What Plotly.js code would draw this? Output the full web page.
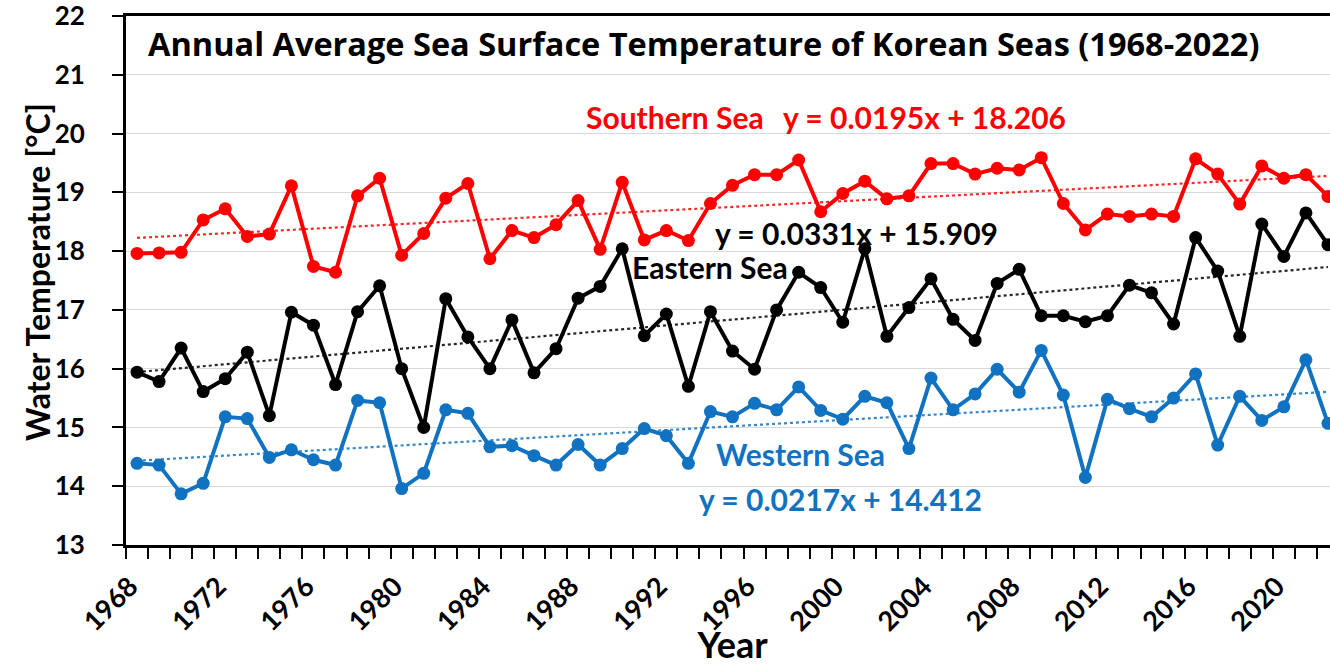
<!DOCTYPE html>
<html>
<head>
<meta charset="utf-8">
<script src="https://cdn.plot.ly/plotly-3.0.1.min.js"></script>
<style>
  html, body { margin: 0; padding: 0; background: #ffffff; overflow: hidden; }
  #chart { width: 1345px; height: 666px; }
</style>
</head>
<body>
<div id="chart"></div>
<script>
// Annual mean sea surface temperature (°C) of the seas around Korea
const years = [
  1968, 1969, 1970, 1971, 1972, 1973, 1974, 1975, 1976, 1977,
  1978, 1979, 1980, 1981, 1982, 1983, 1984, 1985, 1986, 1987,
  1988, 1989, 1990, 1991, 1992, 1993, 1994, 1995, 1996, 1997,
  1998, 1999, 2000, 2001, 2002, 2003, 2004, 2005, 2006, 2007,
  2008, 2009, 2010, 2011, 2012, 2013, 2014, 2015, 2016, 2017,
  2018, 2019, 2020, 2021, 2022
];

const southernSea = [
  17.96, 17.97, 17.98, 18.53, 18.72, 18.25, 18.29, 19.11, 17.74, 17.64,
  18.94, 19.24, 17.93, 18.30, 18.90, 19.15, 17.87, 18.35, 18.23, 18.45,
  18.86, 18.03, 19.17, 18.19, 18.35, 18.18, 18.81, 19.12, 19.30, 19.30,
  19.55, 18.67, 18.98, 19.19, 18.89, 18.94, 19.49, 19.49, 19.31, 19.41,
  19.38, 19.59, 18.81, 18.36, 18.63, 18.59, 18.63, 18.59, 19.57, 19.31,
  18.80, 19.45, 19.24, 19.30, 18.93
];

const easternSea = [
  15.94, 15.78, 16.35, 15.61, 15.83, 16.28, 15.20, 16.96, 16.74, 15.73,
  16.97, 17.41, 16.00, 15.00, 17.19, 16.54, 16.00, 16.83, 15.93, 16.34,
  17.20, 17.40, 18.04, 16.56, 16.93, 15.70, 16.97, 16.30, 15.99, 17.00,
  17.64, 17.38, 16.79, 18.04, 16.55, 17.04, 17.53, 16.84, 16.48, 17.45,
  17.69, 16.90, 16.90, 16.80, 16.90, 17.42, 17.29, 16.76, 18.23, 17.66,
  16.55, 18.46, 17.91, 18.65, 18.11
];

const westernSea = [
  14.39, 14.36, 13.87, 14.05, 15.18, 15.15, 14.49, 14.62, 14.45, 14.36,
  15.46, 15.42, 13.96, 14.22, 15.30, 15.24, 14.67, 14.69, 14.52, 14.36,
  14.71, 14.36, 14.64, 14.98, 14.86, 14.39, 15.27, 15.18, 15.41, 15.30,
  15.69, 15.29, 15.14, 15.53, 15.42, 14.64, 15.84, 15.30, 15.57, 15.99,
  15.60, 16.31, 15.55, 14.15, 15.48, 15.32, 15.18, 15.50, 15.91, 14.70,
  15.53, 15.12, 15.35, 16.15, 15.07
];

// Linear trend y = a*x + b, with x = 1 for the first year
const seaNames = ["Southern Sea", "Eastern Sea", "Western Sea"];
const trendSlope = [0.0195, 0.0331, 0.0217];
const trendIntercept = [18.206, 15.909, 14.412];

const tickYears = [1968, 1972, 1976, 1980, 1984, 1988, 1992, 1996, 2000, 2004, 2008, 2012, 2016, 2020];
const yTicks = [13, 14, 15, 16, 17, 18, 19, 20, 21, 22];

const RED = "#ff0000";
const BLACK = "#000000";
const BLUE = "#1172c2";
const FONT = "Lato, 'Open Sans', sans-serif";
const TITLE_FONT = "'Open Sans', Lato, sans-serif";

const series = [southernSea, easternSea, westernSea];
const colors = [RED, BLACK, BLUE];

function trendTrace(i) {
  const n = years.length;
  const xs = [years[0], years[n - 1]];
  const ys = [1, n].map(k => trendSlope[i] * k + trendIntercept[i]);
  return {
    x: xs, y: ys, type: "scatter", mode: "lines",
    line: { color: colors[i], width: 2.2, dash: "dot" },
    opacity: 0.85,
    hoverinfo: "skip", showlegend: false
  };
}

function dataTrace(i) {
  return {
    x: years, y: series[i], name: seaNames[i],
    type: "scatter", mode: "lines+markers",
    line: { color: colors[i], width: 4 },
    marker: { color: colors[i], size: 13 },
    showlegend: false
  };
}

const traces = [
  trendTrace(0), trendTrace(1), trendTrace(2),
  dataTrace(2), dataTrace(1), dataTrace(0)
];

function eqText(i) {
  return "y = " + trendSlope[i].toFixed(4) + "x + " + trendIntercept[i].toFixed(3);
}

const labelFont = (c) => ({ family: FONT, size: 30, color: c, weight: 700 });

const annotations = [
  { x: 1992.4, y: 20.29, text: "Southern Sea", font: labelFont(RED) },
  { x: 2003.7, y: 20.29, text: eqText(0), font: labelFont(RED) },
  { x: 2000.6, y: 18.31, text: eqText(1), font: labelFont(BLACK) },
  { x: 1994.0, y: 17.73, text: "Eastern Sea", font: labelFont(BLACK) },
  { x: 1998.1, y: 14.55, text: "Western Sea", font: labelFont(BLUE) },
  { x: 1999.9, y: 13.78, text: eqText(2), font: labelFont(BLUE) }
].map(a => Object.assign({ xref: "x", yref: "y", showarrow: false, xanchor: "center", yanchor: "middle" }, a));

// vertical axis title, placed beside the tick labels
annotations.push({
  xref: "paper", yref: "paper",
  x: -89 / 1213, y: (545 - 272) / 529,
  xanchor: "center", yanchor: "middle",
  textangle: -90, showarrow: false,
  text: "Water Temperature [°C]",
  font: { family: FONT, size: 32, color: "#000000", weight: 700 }
});

const layout = {
  width: 1345,
  height: 666,
  margin: { l: 126, r: 6, t: 16, b: 121 },
  paper_bgcolor: "#ffffff",
  plot_bgcolor: "#ffffff",
  font: { family: FONT, color: "#000000" },
  title: {
    text: "Annual Average Sea Surface Temperature of Korean Seas (1968-2022)",
    font: { family: TITLE_FONT, size: 32.5, color: "#000000", weight: 700 },
    xref: "container", yref: "container",
    x: 148 / 1345, xanchor: "left",
    y: 1 - 45 / 666, yanchor: "middle"
  },
  xaxis: {
    type: "linear",
    range: [years[0] - 0.5, years[years.length - 1] + 0.5],
    tickmode: "array",
    tickvals: tickYears,
    ticktext: tickYears.map(String),
    tickangle: -45,
    ticks: "",
    ticklabelstandoff: 12,
    ticklabelshift: -7,
    tickfont: { family: FONT, size: 27, color: "#000000", weight: 700 },
    minor: { tickmode: "linear", tick0: years[0] - 0.5, dtick: 1, ticks: "outside", ticklen: 11, tickwidth: 2, tickcolor: "#000000", showgrid: false },
    showgrid: false,
    zeroline: false,
    showline: true, linecolor: "#000000", linewidth: 3, mirror: true,
    title: { text: "Year", font: { family: FONT, size: 36, color: "#000000", weight: 700 }, standoff: 8 },
    fixedrange: true
  },
  yaxis: {
    range: [12.9999, 22.0001],
    tickmode: "array",
    tickvals: yTicks,
    ticks: "outside", ticklen: 11, tickwidth: 2, tickcolor: "#000000",
    ticklabelstandoff: 22,
    ticklabeloverflow: "allow",
    tickfont: { family: FONT, size: 26, color: "#000000", weight: 700 },
    showgrid: true, gridcolor: "#d9d9d9", gridwidth: 1,
    zeroline: false,
    showline: true, linecolor: "#000000", linewidth: 3, mirror: true,
    fixedrange: true
  },
  annotations: annotations,
  showlegend: false
};

Plotly.newPlot("chart", traces, layout, { displayModeBar: false, staticPlot: true });
</script>
</body>
</html>
